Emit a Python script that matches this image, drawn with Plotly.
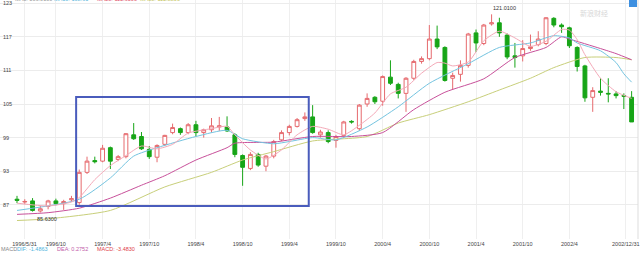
import plotly.graph_objects as go

# ---------------- data (monthly candles 1996/5 .. 2002/12) ----------------
opens = [88.0, 87.5, 87.7, 85.9, 86.7, 87.7, 87.2, 87.9, 87.4, 92.8,
         94.9, 94.8, 97.2, 95.1, 95.6, 99.5, 99.2, 96.9, 95.5, 97.8,
         99.9, 100.6, 99.9, 101.3, 99.9, 100.4, 100.9, 100.9, 99.5, 95.8,
         93.5, 96.0, 93.9, 95.7, 98.6, 99.9, 101.0, 102.4, 102.7, 99.5,
         99.9, 98.5, 99.4, 101.9, 100.6, 105.0, 106.2, 105.5, 109.8, 108.5,
         106.9, 109.6, 112.6, 113.1, 116.6, 115.1, 109.6, 110.3, 111.9, 117.7,
         115.8, 119.3, 119.5, 117.3, 113.6, 113.6, 114.9, 115.6, 115.8, 120.3,
         119.1, 118.6, 115.1, 111.8, 106.2, 107.3, 106.9, 106.8, 106.5, 106.2]
highs = [88.6, 88.0, 88.2, 86.8, 87.9, 88.1, 87.9, 88.6, 93.3, 95.6,
         95.6, 97.7, 97.4, 95.9, 99.8, 101.6, 100.0, 97.5, 97.8, 99.5,
         101.5, 100.8, 101.6, 102.0, 100.6, 102.5, 102.7, 102.8, 99.8, 96.0,
         96.4, 96.3, 95.9, 98.6, 100.3, 101.3, 102.5, 103.5, 104.8, 100.4,
         100.3, 99.5, 102.0, 102.1, 105.0, 106.9, 106.4, 110.1, 112.8, 108.8,
         109.8, 112.9, 113.5, 119.1, 119.0, 115.3, 110.6, 112.8, 117.7, 118.3,
         119.3, 121.01, 120.4, 117.6, 115.9, 116.4, 117.4, 118.0, 120.5, 120.5,
         119.4, 118.8, 115.3, 112.0, 108.0, 109.6, 109.6, 107.3, 106.9, 107.3]
lows = [87.3, 87.1, 85.8, 85.63, 86.2, 86.9, 86.1, 87.5, 87.0, 92.5,
        94.4, 94.6, 93.4, 94.8, 95.3, 98.6, 96.8, 95.2, 94.6, 97.5,
        99.6, 99.5, 99.6, 99.2, 99.0, 99.9, 100.2, 100.0, 95.5, 90.4,
        93.2, 93.8, 93.0, 95.3, 98.4, 99.4, 100.8, 102.0, 99.7, 99.0,
        98.0, 97.2, 99.0, 101.5, 100.2, 104.5, 105.0, 104.7, 108.4, 106.0,
        103.6, 109.3, 112.2, 112.8, 114.8, 109.0, 107.6, 109.0, 111.5, 114.3,
        115.5, 119.0, 117.0, 113.0, 111.5, 112.6, 114.5, 115.3, 115.5, 118.7,
        117.7, 115.0, 110.8, 105.4, 103.6, 106.5, 105.3, 106.0, 104.1, 101.8]
closes = [87.8, 87.6, 86.0, 86.3, 87.7, 87.2, 87.6, 88.1, 92.8, 94.8,
          94.7, 97.1, 94.8, 95.6, 99.7, 98.8, 97.0, 95.6, 97.6, 99.4,
          100.8, 99.9, 101.3, 99.9, 100.4, 101.1, 101.1, 100.2, 96.0, 93.7,
          96.0, 94.1, 95.7, 98.3, 99.9, 101.0, 102.2, 102.7, 99.9, 100.0,
          98.3, 99.2, 101.8, 101.8, 104.8, 106.0, 105.4, 109.9, 108.7, 106.9,
          109.6, 112.6, 113.1, 116.6, 115.2, 109.2, 110.1, 111.9, 117.5, 115.9,
          119.1, 119.5, 117.7, 113.4, 113.3, 114.9, 115.2, 116.6, 120.4, 119.1,
          118.8, 115.4, 111.7, 106.1, 107.4, 107.1, 106.8, 106.5, 106.4, 101.8]
idx = list(range(len(opens)))

# moving averages (month index, value)
ma5_idx = [0, 4, 7, 8, 10, 12, 14, 16, 18, 20, 22, 25, 27, 28, 30, 32, 34, 36, 38, 40,
           42, 44, 46, 48, 50, 52, 54, 55, 56, 58, 60, 62, 64, 66, 68, 70, 71, 72, 73, 75, 77, 79]
ma5_val = [87.3, 86.8, 87.5, 88.3, 91.5, 94.0, 95.8, 97.5, 97.0, 97.8, 99.8, 100.6, 101.0, 99.5,
           96.8, 95.2, 96.8, 99.5, 101.0, 100.5, 99.5, 101.2, 103.4, 106.8, 108.0, 110.5, 112.4,
           112.3, 111.8, 112.5, 116.3, 118.0, 116.8, 115.3, 116.2, 118.3, 118.2, 116.5, 113.8,
           109.6, 107.2, 106.0]
ma10_idx = [0, 8, 12, 15, 18, 23, 27, 29, 33, 35, 38, 41, 45, 49, 53, 58, 62, 66, 69, 71, 72, 75, 77, 78, 79]
ma10_val = [86.0, 88.0, 91.8, 95.7, 97.2, 99.2, 100.3, 98.8, 97.9, 98.3, 99.0, 98.6, 100.9, 104.5,
            108.7, 112.2, 115.1, 115.9, 117.2, 116.8, 115.9, 114.5, 112.4, 110.4, 108.9]
ma20_idx = [0, 4, 8, 12, 16, 19, 23, 27, 28, 33, 38, 43, 47, 51, 55, 60, 64, 68, 70, 71, 75, 77, 79]
ma20_val = [85.3, 85.6, 86.4, 88.2, 90.5, 92.2, 95.0, 97.2, 98.0, 98.2, 99.2, 99.2, 99.9, 104.0,
            107.1, 109.5, 113.3, 115.1, 117.0, 116.6, 114.9, 114.0, 112.9]
ma30_idx = [0, 4, 12, 19, 25, 29, 33, 38, 45, 49, 53, 58, 62, 66, 69, 73, 77, 79]
ma30_val = [84.2, 84.5, 86.0, 90.2, 92.8, 95.0, 96.5, 98.4, 99.2, 101.6, 103.1, 105.4, 107.5,
            109.6, 111.5, 113.3, 113.3, 112.9]

tick_idx = [0.97, 5, 11, 17, 23, 29, 35, 41, 47, 53, 59, 65, 71, 78.25]
tick_text = ["1996/5/31", "1996/10", "1997/4", "1997/10", "1998/4", "1998/10", "1999/4",
             "1999/10", "2000/4", "2000/10", "2001/4", "2001/10", "2002/4", "2002/12/31"]
y_ticks = [81, 87, 93, 99, 105, 111, 117, 123]

box_x = [7.6, 37.5]
box_y = [86.8, 106.25]

FONT = "Liberation Sans, Arial, sans-serif"
FS = 5.5
PW, PH = 638, 239


def px(x):
    return x / PW


def py(y):
    return 1 - y / PH


fig = go.Figure()
fig.add_trace(go.Candlestick(
    x=idx, open=opens, high=highs, low=lows, close=closes,
    increasing=dict(line=dict(color="#e66a6e", width=1), fillcolor="#ffffff"),
    decreasing=dict(line=dict(color="#17a517", width=1), fillcolor="#17a517"),
    whiskerwidth=0, hoverinfo="skip"))

for xs, ys, col in [(ma30_idx, ma30_val, "#c8cf7a"), (ma20_idx, ma20_val, "#c8509a"),
                    (ma10_idx, ma10_val, "#74c4e0"), (ma5_idx, ma5_val, "#f4a9b8")]:
    fig.add_trace(go.Scatter(x=xs, y=ys, mode="lines",
                             line=dict(color=col, width=1, shape="spline", smoothing=0.6),
                             hoverinfo="skip"))

fig.add_shape(type="rect", xref="x", yref="y", x0=box_x[0], x1=box_x[1], y0=box_y[0], y1=box_y[1],
              line=dict(color="#4a5cbc", width=2))
fig.add_shape(type="line", xref="paper", yref="paper", x0=1, x1=1, y0=0, y1=1,
              line=dict(color="#dddddd", width=1))
fig.add_shape(type="rect", xref="paper", yref="paper", x0=px(629), x1=px(637), y0=py(7), y1=py(-1),
              line=dict(width=0), fillcolor="#3d8fe0")

ann = []
# value labels
ann.append(dict(x=61, y=121.01, xref="x", yref="y", text="121.0100", showarrow=False,
                xanchor="left", yanchor="bottom", xshift=-1, yshift=1,
                font=dict(size=FS, color="#333", family=FONT)))
ann.append(dict(x=3, y=85.63, xref="x", yref="y", text="85.6300", showarrow=False,
                xanchor="left", yanchor="top", xshift=-5, yshift=-1,
                font=dict(size=FS, color="#333", family=FONT)))
# top legend (clipped at the top edge, as in the reference)
for xp, t, c in [(13, "MA5: 106.0100", "#999999"), (52, "MA10: 108.91", "#5bb8dc"),
                 (95, "MA20: 112.9300", "#e0506a"), (138, "MA30: 112.8800", "#c3c35a")]:
    ann.append(dict(x=px(xp), y=1, xref="paper", yref="paper", text=t, showarrow=False,
                    xanchor="left", yanchor="middle", yshift=1,
                    font=dict(size=FS, color=c, family=FONT)))
# MACD row
for xp, t, c in [(0, "MACD", "#888888"), (16, "DIF: -1.4863", "#4fb3dc"),
                 (56, "DEA: 0.2752", "#c05aa8"), (96, "MACD: -3.4830", "#e0404a")]:
    ann.append(dict(x=px(xp), y=py(249), xref="paper", yref="paper", text=t, showarrow=False,
                    xanchor="left", yanchor="middle", xshift=-1,
                    font=dict(size=FS, color=c, family=FONT)))
# watermark
ann.append(dict(x=px(594), y=py(13), xref="paper", yref="paper", text="新浪财经", showarrow=False,
                xanchor="center", yanchor="middle",
                font=dict(size=7, color="#d8d8d8", family="Noto Sans CJK SC")))

fig.update_layout(
    width=641, height=253,
    margin=dict(l=0, r=3, t=0, b=14),
    paper_bgcolor="white", plot_bgcolor="white",
    showlegend=False,
    annotations=ann,
    font=dict(family=FONT, size=FS, color="#555"),
    xaxis=dict(range=[-2.185, 79.82], tickvals=tick_idx, ticktext=tick_text,
               showgrid=True, gridcolor="#efefef", gridwidth=1, zeroline=False,
               ticks="", tickfont=dict(size=FS, color="#444"), rangeslider=dict(visible=False),
               fixedrange=True),
    yaxis=dict(range=[80.9, 123.57], tickvals=y_ticks, ticklabelposition="inside",
               showgrid=True, gridcolor="#ececec", zeroline=False, ticks="",
               tickfont=dict(size=FS, color="#444"), fixedrange=True),
)

fig.write_html("out.html", config={"displayModeBar": False})
